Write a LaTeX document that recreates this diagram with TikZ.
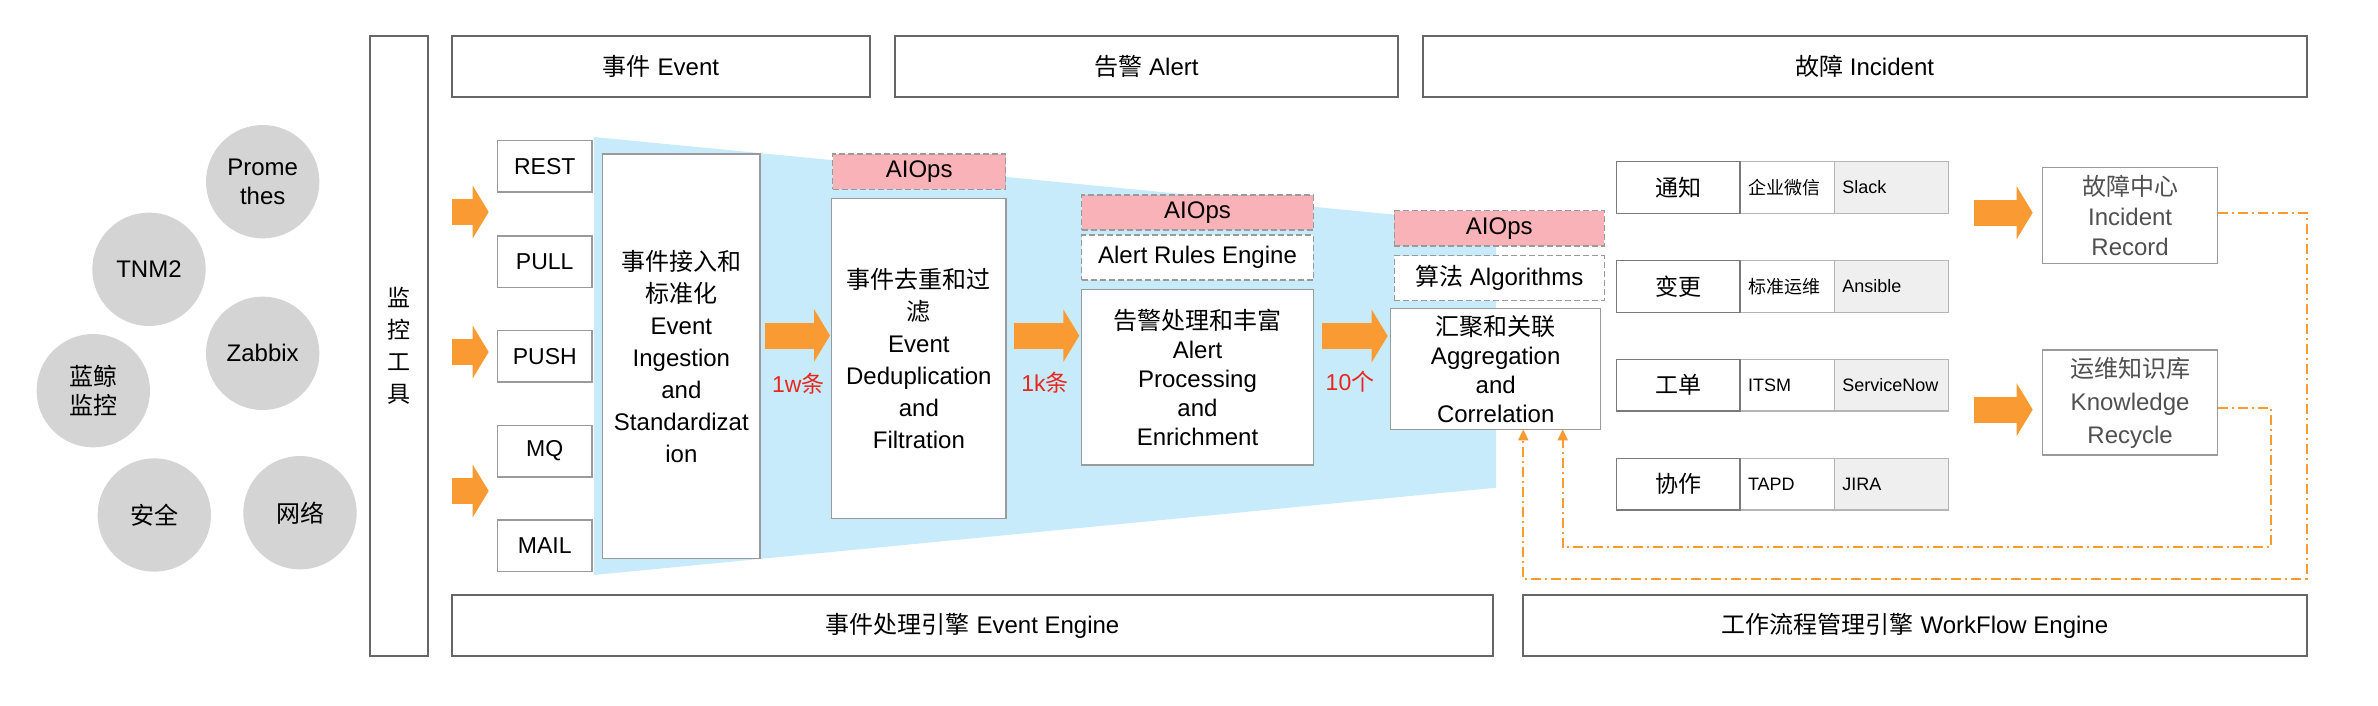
\documentclass[tikz,border=0pt]{standalone}
\usepackage{fontspec}
\setmainfont{Liberation Sans}
\newfontfamily\cjk{Noto Sans CJK SC}
\newcommand\zh[1]{{\cjk #1}}
\usetikzlibrary{arrows.meta}
\definecolor{bluebg}{HTML}{C8EBFB}
\definecolor{arrorange}{HTML}{F99A33}
\definecolor{aipink}{HTML}{F9B2B7}
\definecolor{circgray}{HTML}{D4D4D4}
\definecolor{bordergray}{HTML}{9A9A9A}
\definecolor{darkborder}{HTML}{666666}
\definecolor{numred}{HTML}{E8261E}
\definecolor{cellgray}{HTML}{EFEFEF}
\definecolor{textgray}{HTML}{505050}
\definecolor{cellline}{HTML}{B5B5B5}
\definecolor{firstline}{HTML}{7A7A7A}
\begin{document}
\begin{tikzpicture}[x=1pt,y=-1pt,
  box/.style={draw=bordergray, line width=1.5pt, fill=white, inner sep=0pt, outer sep=0pt, align=center, text=black},
  hdr/.style={draw=darkborder, line width=2pt, fill=white, minimum height=61.5pt, inner sep=0pt, outer sep=0pt, align=center, font=\fontsize{24}{30}\selectfont},
  inbox/.style={box, minimum width=94.5pt, minimum height=51.5pt, font=\fontsize{23}{28}\selectfont},
  bigbox/.style={box, font=\fontsize{24}{32}\selectfont},
  midbox/.style={box, font=\fontsize{24}{29}\selectfont},
  rbox/.style={box, text=textgray, minimum width=175.2pt},
  aiops/.style={draw=bordergray, dash pattern=on 6pt off 3pt, line width=1.5pt, fill=aipink, inner sep=0pt, outer sep=0pt, font=\fontsize{24}{28}\selectfont},
  dbox/.style={aiops, fill=white},
  circ/.style={circle, fill=circgray, minimum size=113.4pt, inner sep=0pt, align=center, font=\fontsize{24}{29}\selectfont},
  barrow/.style={draw=arrorange, line width=26pt, -{Triangle[length=16pt,width=52pt]}},
  num/.style={text=numred, inner sep=0pt, font=\fontsize{23}{28}\selectfont},
  cfirst/.style={draw=firstline, line width=1.5pt, fill=white, minimum width=123.3pt, minimum height=51.6pt, inner sep=0pt, outer sep=0pt, font=\cjk\fontsize{23}{28}\selectfont},
  csec/.style={draw=cellline, line width=1.5pt, fill=white, minimum height=51.6pt, text width=78.3pt, inner xsep=8pt, inner ysep=0pt, outer sep=0pt, align=left, font=\fontsize{18}{22}\selectfont},
  cthird/.style={csec, fill=cellgray, text width=98pt},
  dd/.style={draw=arrorange, line width=2pt, dash pattern=on 10pt off 4pt on 2pt off 4pt, -{Triangle[length=11pt,width=10pt]}}
]
\useasboundingbox (0,0) rectangle (2378,706);

% background funnel
\fill[bluebg] (594,137) -- (1496,224.5) -- (1496,487.7) -- (594,575) -- cycle;

% sources
\node[circ] (prom) at (262.7,181.7) {Prome\\thes};
\node[circ] (tnm) at (149,269.3) {TNM2};
\node[circ] (zab) at (262.7,353.3) {Zabbix};
\node[circ] (lj) at (93.3,390.7) {\zh{蓝鲸}\\\zh{监控}};
\node[circ] (aq) at (154.3,515) {\zh{安全}};
\node[circ] (wl) at (300,512.7) {\zh{网络}};

% frame boxes
\node[hdr, minimum width=58.5pt, minimum height=620pt, font=\cjk\fontsize{23}{32}\selectfont] (tool) at (398.75,346) {监\\控\\工\\具};
\node[hdr, minimum width=418pt] (hev) at (661,66.75) {\zh{事件} Event};
\node[hdr, minimum width=503pt] (hal) at (1146.5,66.75) {\zh{告警} Alert};
\node[hdr, minimum width=884pt] (hin) at (1864.65,66.75) {\zh{故障} Incident};
\node[hdr, minimum width=1041.3pt, minimum height=61pt] (bev) at (972.65,625.5) {\zh{事件处理引擎} Event Engine};
\node[hdr, minimum width=783.4pt, minimum height=61pt] (bwf) at (1915,625.5) {\zh{工作流程管理引擎} WorkFlow Engine};

% inputs
\node[inbox] (rest) at (544.75,166.3) {REST};
\node[inbox] (pull) at (544.75,261.7) {PULL};
\node[inbox] (push) at (544.75,356.2) {PUSH};
\node[inbox] (mq) at (544.75,451) {MQ};
\node[inbox] (mail) at (544.75,545.8) {MAIL};

\coordinate (la1) at (451.6,212);
\coordinate (la2) at (451.6,352);
\coordinate (la3) at (451.6,491);
\draw[barrow, shorten >=8.8pt] (la1) -- (la1 -| rest.west);
\draw[barrow, shorten >=8.8pt] (la2) -- (la2 -| rest.west);
\draw[barrow, shorten >=8.8pt] (la3) -- (la3 -| rest.west);

% pipeline
\node[bigbox, minimum width=157.3pt, minimum height=404.3pt] (ing) at (681.35,356.15) {\zh{事件接入和}\\\zh{标准化}\\Event\\Ingestion\\and\\Standardizat\\ion};

\node[aiops, minimum width=173pt, minimum height=35.3pt] (ai1) at (919.2,171.65) {AIOps};
\node[bigbox, minimum width=174.3pt, minimum height=320pt] (dedup) at (918.85,358.3) {\zh{事件去重和过}\\\zh{滤}\\Event\\Deduplication\\and\\Filtration};

\node[aiops, minimum width=231.6pt, minimum height=35pt] (ai2) at (1197.5,212.5) {AIOps};
\node[dbox, minimum width=231.6pt, minimum height=45pt] (rules) at (1197.5,257.5) {Alert Rules Engine};
\node[midbox, minimum width=231.6pt, minimum height=175.7pt] (proc) at (1197.5,377.15) {\zh{告警处理和丰富}\\Alert\\Processing\\and\\Enrichment};

\node[aiops, minimum width=210pt, minimum height=35.3pt] (ai3) at (1499.3,228.35) {AIOps};
\node[dbox, minimum width=210pt, minimum height=45pt] (algo) at (1499.3,278.2) {\zh{算法} Algorithms};
\node[midbox, minimum width=210pt, minimum height=120.6pt] (agg) at (1495.7,369) {\zh{汇聚和关联}\\Aggregation\\and\\Correlation};

\coordinate (a1) at (765,335.5);
\coordinate (a2) at (1014.3,335.7);
\coordinate (a3) at (1322.3,336);
\draw[barrow, shorten >=1.7pt] (a1) -- (a1 -| dedup.west);
\draw[barrow, shorten >=2.4pt] (a2) -- (a2 -| proc.west);
\draw[barrow, shorten >=3pt] (a3) -- (a3 -| agg.west);

\node[num] (n1) at (798.3,383.3) {1w\zh{条}};
\node[num] (n2) at (1045,383) {1k\zh{条}};
\node[num] (n3) at (1350,381.7) {10\zh{个}};

% workflow table
\node[csec] (t1b) at (1787.15,187.5) {\zh{企业微信}};
\node[cthird] (t1c) at (1891.3,187.5) {Slack};
\node[cfirst] (t1a) at (1678.35,187.5) {通知};
\node[csec] (t2b) at (1787.15,286.5) {\zh{标准运维}};
\node[cthird] (t2c) at (1891.3,286.5) {Ansible};
\node[cfirst] (t2a) at (1678.35,286.5) {变更};
\node[csec] (t3b) at (1787.15,385.15) {ITSM};
\node[cthird] (t3c) at (1891.3,385.15) {ServiceNow};
\node[cfirst] (t3a) at (1678.35,385.15) {工单};
\node[csec] (t4b) at (1787.15,484.15) {TAPD};
\node[cthird] (t4c) at (1891.3,484.15) {JIRA};
\node[cfirst] (t4a) at (1678.35,484.15) {协作};

% outputs
\node[rbox, minimum height=95.8pt, font=\fontsize{24}{30}\selectfont] (rec) at (2130.1,215.4) {\zh{故障中心}\\Incident\\Record};
\node[rbox, minimum height=105pt, font=\fontsize{24}{33}\selectfont] (kn) at (2130.1,402.5) {\zh{运维知识库}\\Knowledge\\Recycle};

\coordinate (r1) at (1974.3,212.7);
\coordinate (r2) at (1974.3,409.6);
\draw[barrow, shorten >=9.8pt] (r1) -- (r1 -| rec.west);
\draw[barrow, shorten >=9.8pt] (r2) -- (r2 -| kn.west);

% feedback loops
\coordinate (f1) at (2306.7,579);
\coordinate (f2) at (1523.3,579);
\coordinate (g1) at (2271,547.3);
\coordinate (g2) at (1562.7,547.3);
\draw[dd] ([yshift=2pt]rec.east) -| (f1) -- (f2) -- (f2 |- agg.south);
\draw[dd] ([yshift=-5.8pt]kn.east) -| (g1) -- (g2) -- (g2 |- agg.south);
\end{tikzpicture}
\end{document}
